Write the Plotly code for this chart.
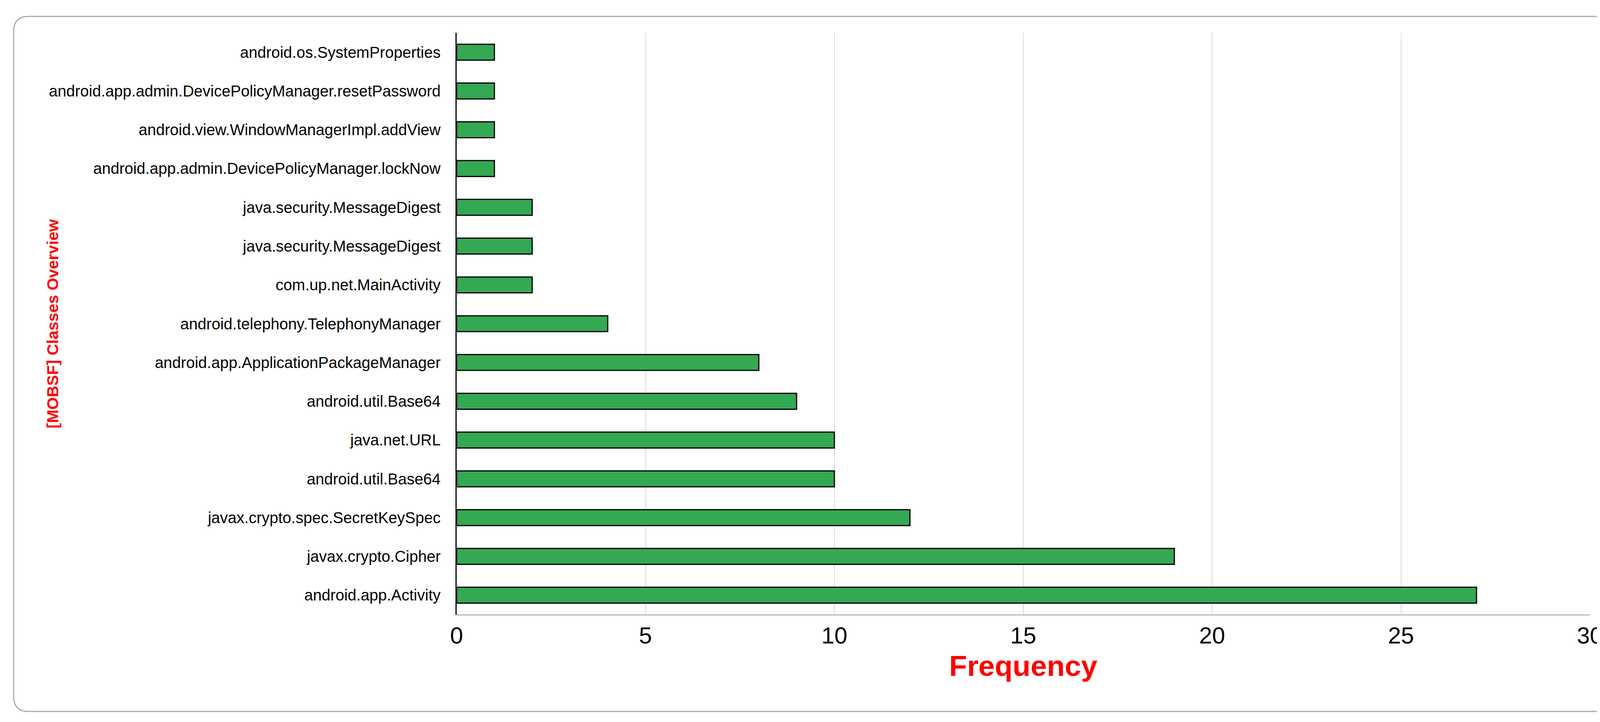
import plotly.graph_objects as go

classes = ["android.app.Activity", "javax.crypto.Cipher", "javax.crypto.spec.SecretKeySpec",
           "android.util.Base64", "java.net.URL", "android.util.Base64 ",
           "android.app.ApplicationPackageManager", "android.telephony.TelephonyManager",
           "com.up.net.MainActivity", "java.security.MessageDigest", "java.security.MessageDigest ",
           "android.app.admin.DevicePolicyManager.lockNow", "android.view.WindowManagerImpl.addView",
           "android.app.admin.DevicePolicyManager.resetPassword", "android.os.SystemProperties"]
freq = [27, 19, 12, 10, 10, 9, 8, 4, 2, 2, 2, 1, 1, 1, 1]

W, H = 4172, 1848
L, R, T, B = 1161, 110, 76, 283
pw, ph = W - L - R, H - T - B

fig = go.Figure(go.Bar(y=list(range(len(classes))), x=freq, orientation="h",
                       marker=dict(color="#34a853", line=dict(color="black", width=3)),
                       width=0.41))

def px(x): return (x - L) / pw
def py(y): return (H - B - y) / ph
x0, x1, y0, y1 = px(27), px(4136), py(1813), py(34)
rx, ry = 38 / pw, 38 / ph
path = (f"M {x0+rx},{y1} L {x1-rx},{y1} Q {x1},{y1} {x1},{y1-ry} L {x1},{y0+ry} "
        f"Q {x1},{y0} {x1-rx},{y0} L {x0+rx},{y0} Q {x0},{y0} {x0},{y0+ry} "
        f"L {x0},{y1-ry} Q {x0},{y1} {x0+rx},{y1} Z")
fig.add_shape(type="path", path=path, xref="paper", yref="paper",
              line=dict(color="#aaaaaa", width=3), layer="below")

fig.update_layout(
    width=W, height=H, margin=dict(l=L, r=R, t=T, b=B),
    plot_bgcolor="white", paper_bgcolor="white", showlegend=False,
    font=dict(family="Liberation Sans, Arial", color="black"),
    xaxis=dict(range=[0, 30], dtick=5, showgrid=True, gridcolor="#d9d9d9", gridwidth=2,
               zeroline=False, showline=True, linecolor="#999999", linewidth=2,
               ticks="", tickfont=dict(size=60),
               title=dict(text="<b>Frequency</b>", font=dict(size=75, color="red"), standoff=18)),
    yaxis=dict(range=[-0.5, len(classes) - 0.5], tickmode="array",
               tickvals=list(range(len(classes))), ticktext=[c.strip() for c in classes],
               tickfont=dict(size=40), ticks="", ticklabelstandoff=30,
               showline=True, linecolor="black", linewidth=3, showgrid=False, zeroline=False),
    annotations=[dict(text="<b>[MOBSF] Classes Overview</b>", x=px(101), y=0.5,
                      xref="paper", yref="paper", textangle=-90, showarrow=False,
                      font=dict(size=41, color="red"))],
)
fig.write_html("out.html")
